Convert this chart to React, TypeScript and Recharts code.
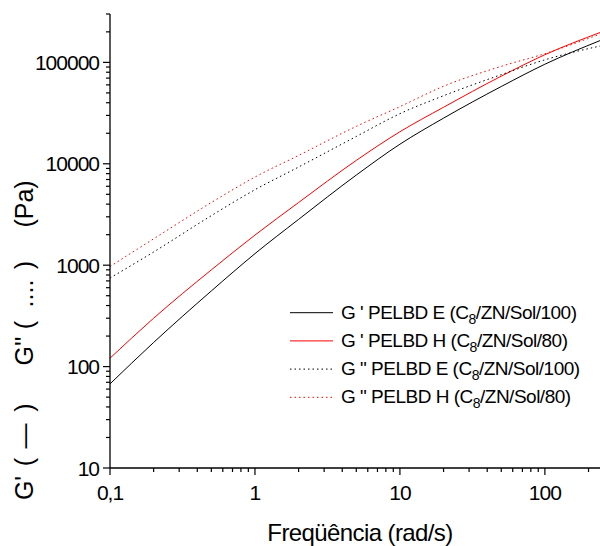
import React from "react";
import { LineChart, Line, XAxis, YAxis, Customized } from "recharts";

const freq = [0.1, 0.2, 0.5, 1, 2, 5, 10, 20, 50, 100, 240];
const gPrimeE = [67.5, 173, 557, 1300, 2830, 7740, 15600, 28200, 57800, 95900, 164000];
const gPrimeH = [121, 300, 899, 1980, 4150, 10800, 20700, 36100, 73100, 119000, 197000];
const gDoubleE = [747, 1350, 3080, 5550, 9290, 18600, 31200, 46900, 75700, 106000, 145000];
const gDoubleH = [970, 1820, 4150, 7400, 12100, 23400, 36600, 58200, 91400, 122000, 190000];

const xTicks = [0.1, 0.2, 0.3, 0.4, 0.5, 0.6, 0.7, 0.8, 0.9, 1, 2, 3, 4, 5, 6, 7, 8, 9, 10, 20, 30, 40, 50, 60, 70, 80, 90, 100, 200];
const yTicks = [
  10, 20, 30, 40, 50, 60, 70, 80, 90,
  100, 200, 300, 400, 500, 600, 700, 800, 900,
  1000, 2000, 3000, 4000, 5000, 6000, 7000, 8000, 9000,
  10000, 20000, 30000, 40000, 50000, 60000, 70000, 80000, 90000,
  100000, 200000, 300000,
];

const yLabelParts = [
  { t: "G'", c: 488 },
  { t: "(", c: 462 },
  { t: "\u2014", c: 436 },
  { t: ")", c: 407.5 },
  { t: "G''", c: 351 },
  { t: "(", c: 325 },
  { t: "....", c: 293.5 },
  { t: ")", c: 265 },
  { t: "(Pa)", c: 204 },
];

const legendItems = [
  { pre: "G ' PELBD E (C", post: "/ZN/Sol/100)", color: "#000000", dotted: false },
  { pre: "G ' PELBD H (C", post: "/ZN/Sol/80)", color: "#ff0000", dotted: false },
  { pre: 'G " PELBD E (C', post: "/ZN/Sol/100)", color: "#000000", dotted: true },
  { pre: 'G " PELBD H (C', post: "/ZN/Sol/80)", color: "#ff0000", dotted: true },
];

const data = freq.map((f, i) => ({
  f,
  gpE: gPrimeE[i],
  gpH: gPrimeH[i],
  gppE: gDoubleE[i],
  gppH: gDoubleH[i],
}));

const FONT = "'Liberation Sans', Arial, sans-serif";
const DOT = "1.5 3";

const isMajor = (v: number) => {
  const l = Math.log10(v);
  return Math.abs(l - Math.round(l)) < 1e-9;
};

const XTick = (props: any) => {
  const { x, y, payload } = props;
  const v = payload.value;
  const major = isMajor(v);
  return (
    <g>
      <line x1={x} x2={x} y1={y} y2={y + (major ? 7 : 4)} stroke="#000" strokeWidth={1.2} />
      {major && (
        <text x={x} y={y + 32} textAnchor="middle" fontFamily={FONT} fontSize={21} letterSpacing={-1} fill="#000">
          {String(v).replace(".", ",")}
        </text>
      )}
    </g>
  );
};

const YTick = (props: any) => {
  const { x, y, payload } = props;
  const v = payload.value;
  const major = isMajor(v);
  return (
    <g>
      <line x1={x - (major ? 7 : 4)} x2={x} y1={y} y2={y} stroke="#000" strokeWidth={1.2} />
      {major && (
        <text x={x - 11} y={y + 7.5} textAnchor="end" fontFamily={FONT} fontSize={21} letterSpacing={-1} fill="#000">
          {String(v)}
        </text>
      )}
    </g>
  );
};

const Overlay = () => (
  <g>
    {yLabelParts.map((p, i) => (
      <text
        key={i}
        transform={`translate(33,${p.c}) rotate(-90)`}
        textAnchor="middle"
        fontFamily={FONT}
        fontSize={25}
        fill="#000"
      >
        {p.t}
      </text>
    ))}
    <text x={360} y={541} textAnchor="middle" fontFamily={FONT} fontSize={24} letterSpacing={-0.6} fill="#000">
      Freqüência (rad/s)
    </text>
    {legendItems.map((it, i) => {
      const ly = 312.7 + i * 28.2;
      return (
        <g key={i}>
          <line
            x1={290}
            x2={333}
            y1={ly}
            y2={ly}
            stroke={it.color}
            strokeWidth={1}
            strokeDasharray={it.dotted ? DOT : undefined}
          />
          <text x={341} y={ly + 6} fontFamily={FONT} fontSize={19} letterSpacing={-0.5} fill="#000">
            {it.pre}
            <tspan fontSize={14} dy={5}>8</tspan>
            <tspan dy={-5}>{it.post}</tspan>
          </text>
        </g>
      );
    })}
  </g>
);

export default function App() {
  return (
    <div style={{ position: "absolute", left: 0, top: 0, background: "#fff" }}>
      <LineChart width={600} height={546} data={data} margin={{ top: 14, right: 0, bottom: 0, left: 0 }}>
        <XAxis
          dataKey="f"
          type="number"
          scale="log"
          domain={[0.1, 240]}
          allowDataOverflow
          ticks={xTicks}
          interval={0}
          height={78}
          tickSize={0}
          tickMargin={0}
          tickLine={false}
          tick={<XTick />}
          axisLine={{ stroke: "#000", strokeWidth: 1.3 }}
        />
        <YAxis
          type="number"
          scale="log"
          domain={[10, 300000]}
          allowDataOverflow
          ticks={yTicks}
          interval={0}
          width={110}
          tickSize={0}
          tickMargin={0}
          tickLine={false}
          tick={<YTick />}
          axisLine={{ stroke: "#000", strokeWidth: 1.3 }}
        />
        <Line dataKey="gpE" type="monotone" stroke="#000000" strokeWidth={1} dot={false} isAnimationActive={false} />
        <Line dataKey="gpH" type="monotone" stroke="#ff0000" strokeWidth={1} dot={false} isAnimationActive={false} />
        <Line dataKey="gppE" type="monotone" stroke="#000000" strokeWidth={1} strokeDasharray={DOT} dot={false} isAnimationActive={false} />
        <Line dataKey="gppH" type="monotone" stroke="#ff0000" strokeWidth={1} strokeDasharray={DOT} dot={false} isAnimationActive={false} />
        <Customized component={Overlay} />
      </LineChart>
    </div>
  );
}
